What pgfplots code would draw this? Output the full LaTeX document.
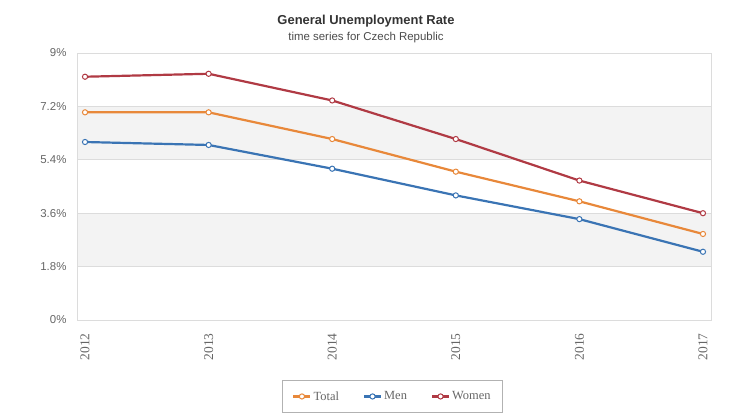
\documentclass[border=0pt]{standalone}
\usepackage{pgfplots}
\pgfplotsset{compat=1.18}
\usepackage{fontspec}
\setmainfont{Liberation Serif}
\setsansfont{Liberation Sans}
\definecolor{cTotal}{HTML}{E8883A}
\definecolor{cMen}{HTML}{3A74B4}
\definecolor{cWomen}{HTML}{B03A44}
\definecolor{band}{HTML}{F3F3F3}
\definecolor{gridc}{HTML}{DCDCDC}
\definecolor{txt}{HTML}{666666}
\begin{document}
\begin{tikzpicture}
\begin{axis}[
  set layers,
  scale only axis,
  width=634bp, height=267bp,
  xmin=-0.065, xmax=5.065,
  ymin=0, ymax=9,
  xtick={0,1,2,3,4,5},
  xticklabels={2012,2013,2014,2015,2016,2017},
  ytick={0,1.8,3.6,5.4,7.2,9},
  yticklabels={0\%,1.8\%,3.6\%,5.4\%,7.2\%,9\%},
  major tick length=0pt,
  ymajorgrids,
  grid style={gridc, line width=0.8bp},
  axis line style={gridc, line width=0.8bp},
  yticklabel style={font=\sffamily\fontsize{11.5}{13}\selectfont, text=txt, xshift=-7bp},
  xticklabel style={font=\rmfamily\fontsize{13.5}{15}\selectfont, text=txt, rotate=90, anchor=east, xshift=-10bp},
  legend style={at={(0.4976,-0.2247)}, anchor=north, draw=gray!60, line width=0.8bp,
    font=\rmfamily\fontsize{12.5}{14}\selectfont, text=txt, legend columns=3,
    inner xsep=10bp, inner ysep=9bp,
    /tikz/every even column/.append style={column sep=22bp}},
  legend cell align=left,
  every axis plot/.append style={line width=2.2bp, mark=*, mark size=2.6bp,
    mark options={fill=white, line width=1bp}},
]
\addplot[cTotal] coordinates {(0,7.0) (1,7.0) (2,6.1) (3,5.0) (4,4.0) (5,2.9)};
\addlegendentry{Total}
\addplot[cMen] coordinates {(0,6.0) (1,5.9) (2,5.1) (3,4.2) (4,3.4) (5,2.3)};
\addlegendentry{Men}
\addplot[cWomen] coordinates {(0,8.2) (1,8.3) (2,7.4) (3,6.1) (4,4.7) (5,3.6)};
\addlegendentry{Women}
\begin{pgfonlayer}{axis background}
\fill[band] (axis cs:-0.065,5.4) rectangle (axis cs:5.065,7.2);
\fill[band] (axis cs:-0.065,1.8) rectangle (axis cs:5.065,3.6);
\end{pgfonlayer}
\end{axis}
\node[font=\sffamily\bfseries\fontsize{13}{15}\selectfont, text=black!80] at (289bp,299bp) {General Unemployment Rate};
\node[font=\sffamily\fontsize{11.5}{13}\selectfont, text=black!70] at (289bp,282bp) {time series for Czech Republic};
\pgfresetboundingbox
\useasboundingbox (-77bp,-95bp) rectangle (655bp,320bp);
\end{tikzpicture}
\end{document}
